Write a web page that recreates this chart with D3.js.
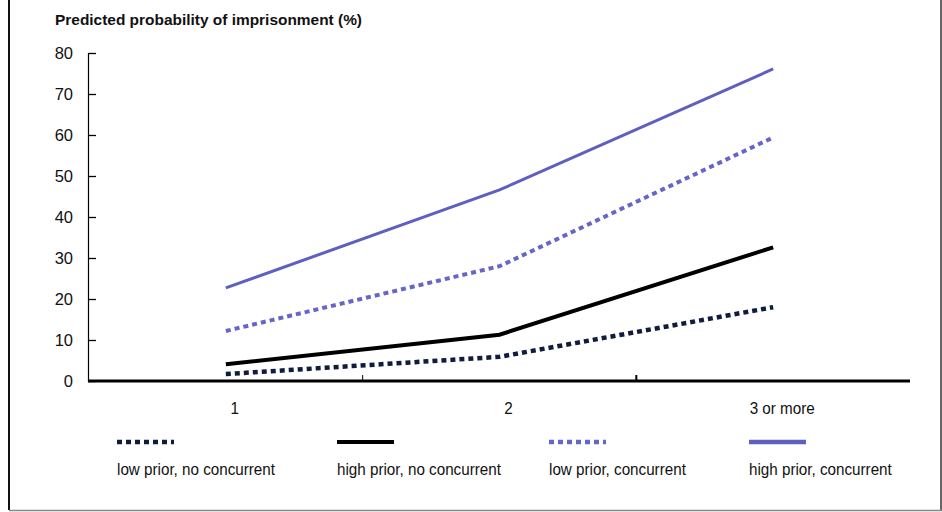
<!DOCTYPE html>
<html><head><meta charset="utf-8">
<script src="https://cdn.jsdelivr.net/npm/d3@7"></script>
<style>body{margin:0;background:#fff}svg{display:block;font-family:"Liberation Sans",Arial,sans-serif}</style>
</head><body><svg id="c" width="942" height="512"></svg>
<script>
const categories = ["1", "2", "3 or more"];
const yTicks = [0, 10, 20, 30, 40, 50, 60, 70, 80];
const seriesNames = ["low prior, no concurrent", "high prior, no concurrent", "low prior, concurrent", "high prior, concurrent"];
const lowNoConc = [1.7, 5.9, 18.0];
const highNoConc = [4.1, 11.3, 32.6];
const lowConc = [12.2, 28.0, 59.4];
const highConc = [22.7, 46.6, 76.1];
const titleText = "Predicted probability of imprisonment (%)";

const styles = [
  {color: "#101c3e", width: 4.5, dash: "5,4"},
  {color: "#000000", width: 4, dash: null},
  {color: "#6666c8", width: 4, dash: "5,4"},
  {color: "#5e5fbf", width: 3, dash: null}
];
const seriesVals = [lowNoConc, highNoConc, lowConc, highConc];

const svg = d3.select("#c");
function condense(sel, f) {
  sel.each(function(){ const w = this.getComputedTextLength();
    d3.select(this).attr("textLength", w*f).attr("lengthAdjust","spacingAndGlyphs"); });
}
// frame
svg.append("line").attr("x1",9).attr("x2",9).attr("y1",0).attr("y2",510).attr("stroke","#111").attr("stroke-width",2);
svg.append("line").attr("x1",941).attr("x2",941).attr("y1",0).attr("y2",510).attr("stroke","#333").attr("stroke-width",1.5);
svg.append("line").attr("x1",9).attr("x2",942).attr("y1",510.5).attr("y2",510.5).attr("stroke","#888").attr("stroke-width",1.5);

const x = d3.scaleBand().domain(categories).range([89, 910]);
const y = d3.scaleLinear().domain([0, 80]).range([381, 53]);

svg.append("text").attr("x",55).attr("y",25).attr("font-weight","bold").attr("font-size",15.5)
  .attr("fill","#111").attr("textLength",307).attr("lengthAdjust","spacingAndGlyphs").text(titleText);

// y axis
const ya = svg.append("g").attr("transform","translate(88,0)")
  .call(d3.axisRight(y).tickValues(yTicks).tickSize(8).tickFormat(d3.format("d")));
ya.select(".domain").attr("stroke","#000").attr("stroke-width",1.2);
ya.selectAll(".tick line").attr("stroke","#000").attr("stroke-width",1.3);
ya.selectAll(".tick text").attr("x",-15).attr("text-anchor","end").attr("font-size",16.5)
  .attr("font-family","Liberation Sans, Arial, sans-serif").attr("fill","#111").attr("dy","0.35em");

// x axis
const xa = svg.append("g").attr("transform","translate(0,381)")
  .call(d3.axisBottom(x).tickSize(0).tickPadding(0));
xa.select(".domain").remove();
xa.selectAll(".tick text").attr("font-size",16).attr("font-family","Liberation Sans, Arial, sans-serif")
  .attr("fill","#111").attr("dx",9).attr("y",33).attr("dy",0);
condense(xa.selectAll(".tick text"), 0.95);
// category boundary ticks
const bounds = categories.slice(1).map(c => x(c));
svg.selectAll(".bt").data(bounds).enter().append("line")
  .attr("x1",d=>d).attr("x2",d=>d).attr("y1",375).attr("y2",381).attr("stroke","#000").attr("stroke-width",(d,i)=>i?2:1);
svg.append("line").attr("x1",x.range()[0]-1).attr("x2",x.range()[1]).attr("y1",381).attr("y2",381)
  .attr("stroke","#000").attr("stroke-width",3);

// lines
const line = d3.line().x((d,i)=>x(categories[i]) + x.bandwidth()/2).y(d=>y(d));
seriesVals.forEach((vals, k) => {
  const s = styles[k];
  svg.append("path").datum(vals).attr("d", line).attr("fill","none")
    .attr("stroke", s.color).attr("stroke-width", s.width)
    .attr("stroke-dasharray", s.dash).attr("stroke-linejoin","miter");
});

// legend
const legX = [117, 337, 549, 749];
seriesNames.forEach((name, k) => {
  const s = styles[k];
  svg.append("line").attr("x1",legX[k]).attr("x2",legX[k]+57).attr("y1",442).attr("y2",442)
    .attr("stroke", s.color).attr("stroke-width", k===1?4:4.5).attr("stroke-dasharray", s.dash);
  const t = svg.append("text").attr("x",legX[k]).attr("y",475).attr("font-size",16).attr("fill","#111")
    .text(name);
  condense(t, 0.95);
});
</script></body></html>
